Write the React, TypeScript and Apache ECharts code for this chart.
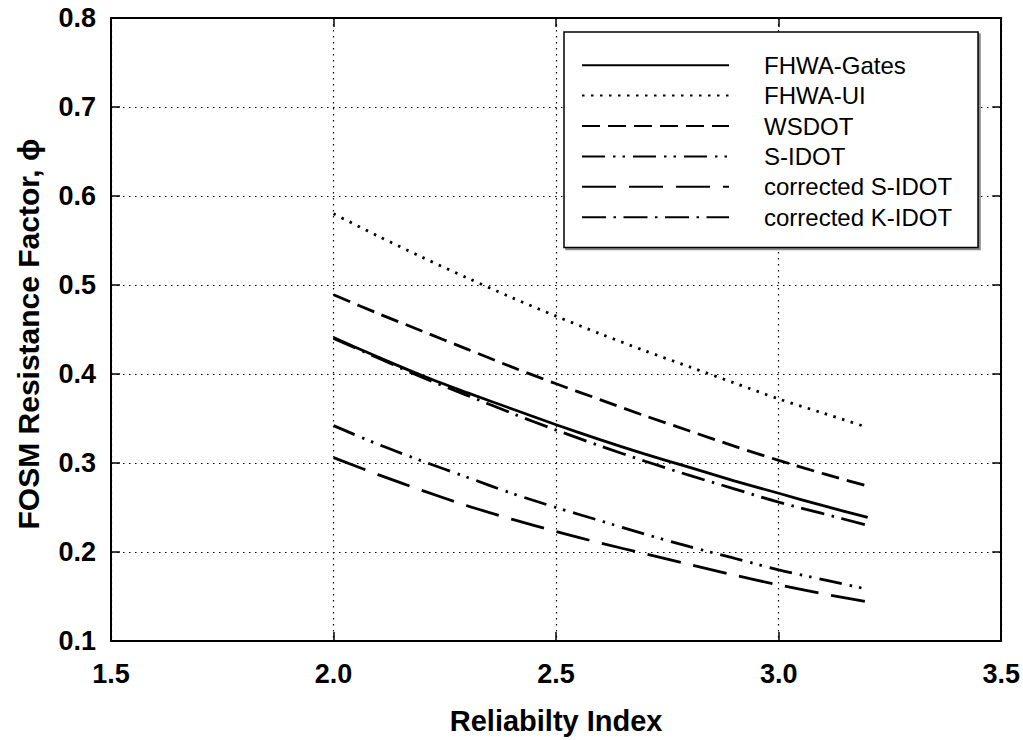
import React, { useEffect, useRef } from "react";
import * as echarts from "echarts";

const beta = [2.0, 2.1, 2.2, 2.3, 2.4, 2.5, 2.6, 2.7, 2.8, 2.9, 3.0, 3.1, 3.2];

const fhwaGates = [0.441, 0.419, 0.398, 0.379, 0.361, 0.343, 0.326, 0.31, 0.295, 0.28, 0.266, 0.252, 0.239];
const fhwaUI = [0.58, 0.555, 0.531, 0.508, 0.486, 0.465, 0.445, 0.426, 0.408, 0.39, 0.372, 0.356, 0.34];
const wsdot = [0.489, 0.468, 0.448, 0.428, 0.408, 0.389, 0.371, 0.353, 0.336, 0.319, 0.303, 0.288, 0.274];
const sIdot = [0.342, 0.321, 0.302, 0.284, 0.266, 0.25, 0.235, 0.22, 0.206, 0.193, 0.18, 0.169, 0.158];
const corrSIdot = [0.306, 0.287, 0.269, 0.252, 0.237, 0.223, 0.21, 0.198, 0.186, 0.174, 0.163, 0.153, 0.144];
const corrKIdot = [0.44, 0.418, 0.396, 0.376, 0.356, 0.337, 0.319, 0.302, 0.286, 0.271, 0.256, 0.243, 0.23];

const seriesNames = ["FHWA-Gates", "FHWA-UI", "WSDOT", "S-IDOT", "corrected S-IDOT", "corrected K-IDOT"];
const seriesValues = [fhwaGates, fhwaUI, wsdot, sIdot, corrSIdot, corrKIdot];
const dashTypes: any[] = [
  "solid",
  [2.5, 6.5],
  [18, 8],
  [23, 8, 2.5, 7, 2.5, 8],
  [34, 13],
  [24, 7.5, 2.5, 7.5],
];

const xTicks = { min: 1.5, max: 3.5, interval: 0.5 };
const yTicks = { min: 0.1, max: 0.8, interval: 0.1 };
const xTitle = "Reliabilty Index";
const yTitle = "FOSM Resistance Factor, ϕ";

const FONT = "'Liberation Sans', Arial, Helvetica, sans-serif";

export default function App() {
  const ref = useRef<HTMLDivElement>(null);
  useEffect(() => {
    if (!ref.current) return;
    const chart = echarts.init(ref.current, undefined, { renderer: "svg" });
    const axisLine = { show: true, lineStyle: { color: "#000", width: 2 } };
    const tick = { show: true, inside: true, length: 9, lineStyle: { color: "#000", width: 1.5 } };
    const option: any = {
      animation: false,
      backgroundColor: "#fff",
      textStyle: { fontFamily: FONT },
      grid: { left: 111, right: 21, top: 18, bottom: 98, containLabel: false },
      graphic: [
        {
          type: "text",
          x: 28,
          y: 334,
          rotation: Math.PI / 2,
          style: {
            text: yTitle,
            fontFamily: FONT,
            fontSize: 30,
            fontWeight: "bold",
            fill: "#000",
            align: "center",
            verticalAlign: "middle",
          },
        },
      ],
      legend: {
        show: true,
        orient: "vertical",
        left: 564,
        top: 32,
        padding: [18, 26, 15, 17],
        itemWidth: 147,
        itemHeight: 14,
        itemGap: 0,
        backgroundColor: "#fff",
        borderColor: "#000",
        borderWidth: 1.5,
        shadowColor: "rgba(0,0,0,0.45)",
        shadowOffsetX: 2,
        shadowOffsetY: 2,
        shadowBlur: 0,
        itemStyle: { opacity: 0, color: "rgba(0,0,0,0)", borderWidth: 0 },
        textStyle: {
          fontFamily: FONT,
          fontSize: 24,
          color: "#000",
          lineHeight: 30.4,
          padding: [0, 0, 0, 30],
        },
        data: seriesNames,
      },
      xAxis: [
        {
          type: "value",
          min: xTicks.min,
          max: xTicks.max,
          interval: xTicks.interval,
          position: "bottom",
          name: xTitle,
          nameLocation: "middle",
          nameGap: 65,
          nameTextStyle: { fontFamily: FONT, fontSize: 29, fontWeight: "bold", color: "#000" },
          axisLine,
          axisTick: tick,
          axisLabel: {
            show: true,
            margin: 19,
            fontFamily: FONT,
            fontSize: 27,
            fontWeight: "bold",
            color: "#000",
            formatter: (v: number) => v.toFixed(1),
          },
          splitLine: { show: true, lineStyle: { color: "#000", width: 1.2, type: [1.5, 4.5] } },
        },
        {
          type: "value",
          min: xTicks.min,
          max: xTicks.max,
          interval: xTicks.interval,
          position: "top",
          axisLine,
          axisTick: tick,
          axisLabel: { show: false },
          splitLine: { show: false },
        },
      ],
      yAxis: [
        {
          type: "value",
          min: yTicks.min,
          max: yTicks.max,
          interval: yTicks.interval,
          position: "left",
          axisLine,
          axisTick: tick,
          axisLabel: {
            show: true,
            margin: 15,
            fontFamily: FONT,
            fontSize: 27,
            fontWeight: "bold",
            color: "#000",
            formatter: (v: number) => v.toFixed(1),
          },
          splitLine: { show: true, lineStyle: { color: "#000", width: 1.2, type: [1.5, 4.5] } },
        },
        {
          type: "value",
          min: yTicks.min,
          max: yTicks.max,
          interval: yTicks.interval,
          position: "right",
          axisLine,
          axisTick: tick,
          axisLabel: { show: false },
          splitLine: { show: false },
        },
      ],
      series: seriesNames.map((name, i) => ({
        name,
        type: "line",
        xAxisIndex: 0,
        yAxisIndex: 0,
        smooth: 0.3,
        symbol: "none",
        showSymbol: false,
        color: "#000",
        lineStyle: { color: "#000", width: 2.8, type: dashTypes[i], cap: "butt" },
        itemStyle: { color: "#000" },
        emphasis: { disabled: true },
        z: 3,
        data: beta.map((b, j) => [b, seriesValues[i][j]]),
      })),
    };
    chart.setOption(option);
    return () => chart.dispose();
  }, []);
  return (
    <div
      ref={ref}
      style={{ position: "fixed", left: 0, top: 0, width: 1023, height: 740 }}
    />
  );
}
